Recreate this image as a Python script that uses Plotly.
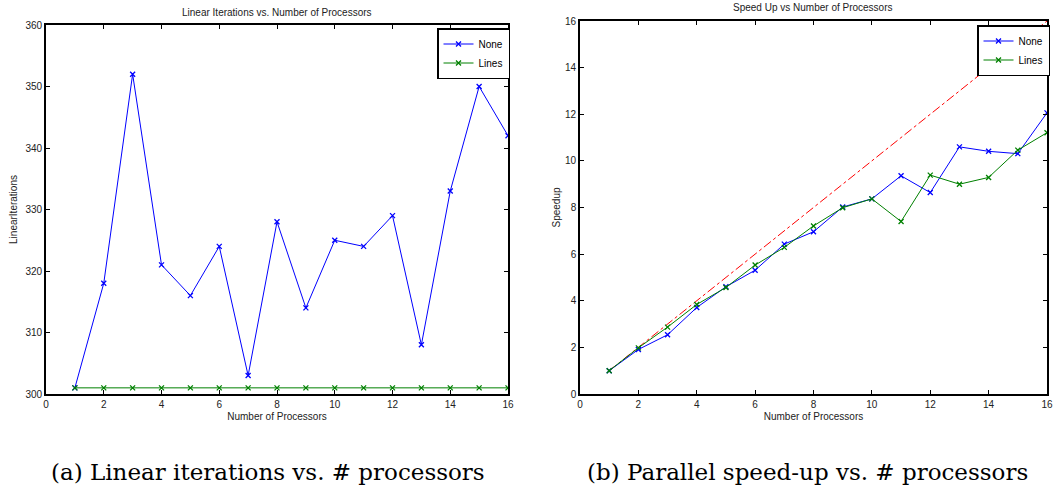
import plotly.graph_objects as go

procs = list(range(1, 17))
iters_none = [301, 318, 352, 321, 316, 324, 303, 328, 314, 325, 324, 329, 308, 333, 350, 342]
iters_lines = [301] * 16
speed_none = [1.0, 1.91, 2.54, 3.71, 4.6, 5.31, 6.43, 6.96, 8.02, 8.37, 9.36, 8.64, 10.6, 10.41, 10.31, 12.06]
speed_lines = [1.0, 1.98, 2.87, 3.84, 4.57, 5.53, 6.29, 7.21, 7.99, 8.37, 7.4, 9.39, 9.0, 9.29, 10.46, 11.21]
ideal_x = [1, 16]
ideal_y = [1, 16]

xticks = [0, 2, 4, 6, 8, 10, 12, 14, 16]
yticks_a = [300, 310, 320, 330, 340, 350, 360]
yticks_b = [0, 2, 4, 6, 8, 10, 12, 14, 16]

BLUE = "#0000ff"
GREEN = "#008000"
RED = "#ff0000"
FONT = "Liberation Sans, Arial, sans-serif"

fig = go.Figure()

def series(x, y, name, color, xa, ya, legend):
    fig.add_trace(go.Scatter(
        x=x, y=y, name=name, mode="lines+markers", xaxis=xa, yaxis=ya, legend=legend,
        line=dict(color=color, width=1),
        marker=dict(symbol="x-thin", size=5, line=dict(color=color, width=1.3), color=color),
    ))

series(procs, iters_none, "None", BLUE, "x", "y", "legend")
series(procs, iters_lines, "Lines", GREEN, "x", "y", "legend")
fig.add_trace(go.Scatter(x=ideal_x, y=ideal_y, mode="lines", xaxis="x2", yaxis="y2",
                         line=dict(color=RED, width=1, dash="dashdot"), showlegend=False))
series(procs, speed_none, "None", BLUE, "x2", "y2", "legend2")
series(procs, speed_lines, "Lines", GREEN, "x2", "y2", "legend2")

W, H = 1060, 498

def ax(domain, rng, ticks, title, anchor, standoff):
    return dict(domain=domain, range=rng, tickvals=ticks, ticktext=[str(t) for t in ticks],
                showgrid=False, zeroline=False, showline=True, linecolor="black", linewidth=1.6,
                mirror="ticks", ticks="inside", ticklen=4, tickcolor="black", tickwidth=1,
                automargin=False,
                tickfont=dict(size=10, color="#222", family=FONT),
                title=dict(text=title, font=dict(size=10, color="#222", family=FONT), standoff=standoff),
                anchor=anchor)

legend_common = dict(xanchor="right", yanchor="top", bordercolor="black", borderwidth=1.5,
                     bgcolor="white", font=dict(size=10, family=FONT, color="black"),
                     tracegroupgap=0, itemwidth=30)

fig.update_layout(
    width=W, height=H, margin=dict(l=0, r=0, t=0, b=0, autoexpand=False),
    paper_bgcolor="white", plot_bgcolor="white",
    xaxis=ax([46 / W, 508 / W], [0, 16], xticks, "Number of Processors", "y", 4),
    yaxis=ax([1 - 394 / H, 1 - 25 / H], [300, 360], yticks_a, "LinearIterations", "x", 6),
    xaxis2=ax([580 / W, 1047 / W], [0, 16], xticks, "Number of Processors", "y2", 4),
    yaxis2=ax([1 - 394 / H, 1 - 21 / H], [0, 16], yticks_b, "Speedup", "x2", 3),
    legend=dict(x=510 / W, y=1 - 28 / H, **legend_common),
    legend2=dict(x=1050 / W, y=1 - 25 / H, **legend_common),
    annotations=[
        dict(text="Linear Iterations vs. Number of Processors", x=277 / W, y=1 - 13 / H,
             xref="paper", yref="paper", showarrow=False, xanchor="center", yanchor="middle",
             font=dict(size=10, family=FONT, color="#222")),
        dict(text="Speed Up vs Number of Processors", x=813 / W, y=1 - 8 / H,
             xref="paper", yref="paper", showarrow=False, xanchor="center", yanchor="middle",
             font=dict(size=10, family=FONT, color="#222")),
        dict(text="(a) Linear iterations vs. # processors", x=268 / W, y=1 - 472 / H,
             xref="paper", yref="paper", showarrow=False, xanchor="center", yanchor="middle",
             font=dict(size=23, family="DejaVu Serif, serif", color="black")),
        dict(text="(b) Parallel speed-up vs. # processors", x=807 / W, y=1 - 472 / H,
             xref="paper", yref="paper", showarrow=False, xanchor="center", yanchor="middle",
             font=dict(size=23, family="DejaVu Serif, serif", color="black")),
    ],
)

fig.write_html("out.html")
